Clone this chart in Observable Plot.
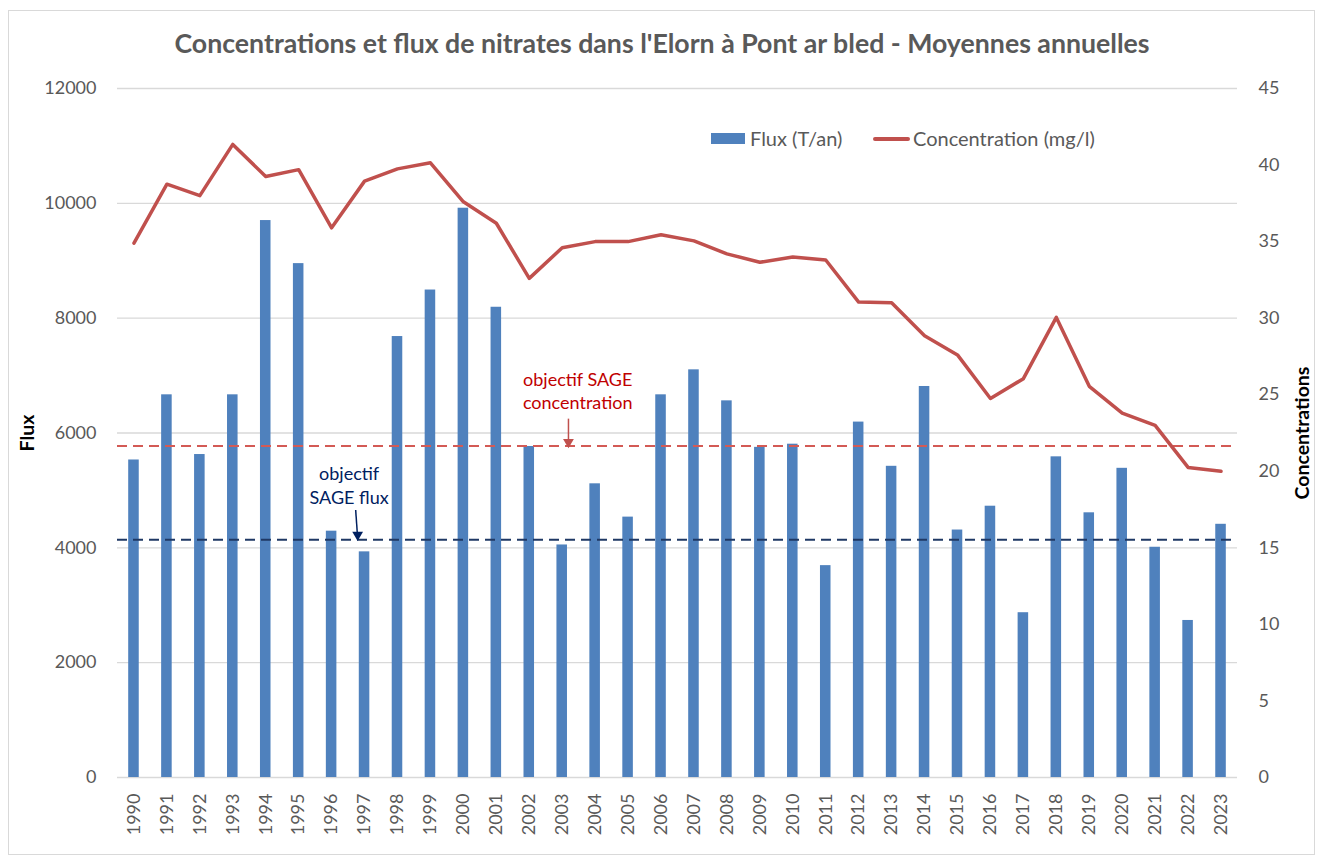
<!DOCTYPE html>
<html>
<head>
<meta charset="utf-8">
<script src="https://cdn.jsdelivr.net/npm/d3@7"></script>
<script src="https://cdn.jsdelivr.net/npm/@observablehq/plot@0.6"></script>
<style>
  body { margin: 0; background: #fff; }
  #wrap { position: relative; width: 1324px; height: 858px; font-family: Lato, "Open Sans", sans-serif; overflow: hidden; }
  #frame { position: absolute; left: 8px; top: 10px; width: 1307px; height: 845px; border: 1px solid #D9D9D9; box-sizing: border-box; pointer-events: none; }
  #title { height: 75px; line-height: 86px; text-align: center; font-size: 26.7px; font-weight: bold; color: #595959; }
  .leg { position: absolute; font-size: 20px; color: #595959; line-height: 22px; }
</style>
</head>
<body>
<div id="wrap">
  <div id="frame"></div>
  <div id="title">Concentrations et flux de nitrates dans l'Elorn à Pont ar bled - Moyennes annuelles</div>
  <div id="chart"></div>
  <div class="leg" style="left:711px;top:133px;width:34px;height:11px;background:#4F81BD"></div>
  <div class="leg" style="left:750px;top:127px;">Flux (T/an)</div>
  <div class="leg" style="left:873px;top:137px;width:37px;height:4px;background:#C0504D;border-radius:2px"></div>
  <div class="leg" style="left:913px;top:127px;">Concentration (mg/l)</div>
</div>
<script>
const years = d3.range(1990, 2024);
const flux = [5530, 6665, 5625, 6665, 9700, 8950, 4290, 3930, 7680, 8490,
              9915, 8190, 5765, 4050, 5115, 4535, 6665, 7100, 6560, 5750,
              5805, 3690, 6190, 5420, 6810, 4310, 4725, 2870, 5585, 4610,
              5385, 4010, 2735, 4410];
const concentration = [34.9, 38.75, 38.0, 41.35, 39.25, 39.7, 35.9, 38.95, 39.75, 40.15,
                       37.6, 36.2, 32.6, 34.6, 35.0, 35.0, 35.45, 35.05, 34.2, 33.65,
                       34.0, 33.8, 31.05, 31.0, 28.85, 27.6, 24.75, 26.05, 30.05, 25.55,
                       23.8, 23.0, 20.25, 20.0];
const fluxTicks = [0, 2000, 4000, 6000, 8000, 10000, 12000];
const concTicks = [0, 5, 10, 15, 20, 25, 30, 35, 40, 45];
const sageFlux = 4140;       // objectif SAGE flux (T/an)
const sageConc = 21.65;      // objectif SAGE concentration (mg/l)

const fluxMax = 12000, concMax = 45;
const k = fluxMax / concMax; // concentration -> flux axis

const rows = years.map((year, i) => ({year, flux: flux[i], conc: concentration[i]}));

const notes = [
  {x: 2003.47, y: 6750, text: "objectif SAGE\nconcentration", color: "#C00000"},
  {x: 1996.53, y: 5100, text: "objectif\nSAGE flux", color: "#002060"}
];
const arrows = [
  {x1: 2003.19, y1: 6250, x2: 2003.19, y2: 5790, color: "#C0504D"},
  {x1: 1996.73, y1: 4660, x2: 1996.79, y2: 4175, color: "#002060"}
];

const chart = Plot.plot({
  width: 1324,
  height: 783,
  marginTop: 13,
  marginBottom: 81,
  marginLeft: 117,
  marginRight: 87,
  style: {fontFamily: "Lato, 'Open Sans', sans-serif", fontSize: "18px", color: "#595959", background: "transparent", overflow: "visible"},
  x: {domain: [1989.5, 2023.5], axis: null},
  y: {domain: [0, fluxMax], axis: null},
  marks: [
    Plot.ruleY(fluxTicks, {stroke: "#D9D9D9", strokeWidth: 1.3}),
    Plot.axisY({ticks: fluxTicks, tickSize: 0, tickPadding: 21, tickFormat: d => String(d), label: null, fill: "#595959"}),
    Plot.axisY({anchor: "right", ticks: concTicks.map(c => c * k), tickSize: 0, tickPadding: 21,
                tickFormat: d => String(Math.round(d / k)), label: null, fill: "#595959"}),
    Plot.axisX({ticks: years, tickSize: 0, tickPadding: 16, tickRotate: -90, tickFormat: d => String(d), label: null, fill: "#595959"}),
    Plot.rectY(rows, {x1: d => d.year - 0.16, x2: d => d.year + 0.16, y: "flux", fill: "#4F81BD"}),
    Plot.ruleY([sageConc * k], {stroke: "#D35A55", strokeWidth: 2, strokeDasharray: "10,6"}),
    Plot.ruleY([sageFlux], {stroke: "#1F3864", strokeWidth: 2, strokeDasharray: "10,6"}),
    Plot.line(rows, {x: "year", y: d => d.conc * k, stroke: "#C0504D", strokeWidth: 3.5, strokeLinejoin: "round"}),
    Plot.link(arrows, {x1: "x1", y1: "y1", x2: "x2", y2: "y2", stroke: "color", strokeWidth: 1.5}),
    Plot.dot(arrows, {x: "x2", y: "y2", symbol: "triangle", rotate: 180, r: 4, fill: "color", stroke: null, dy: -3}),
    Plot.text(notes, {x: "x", y: "y", text: "text", fill: "color", fontSize: 18, lineHeight: 1.3}),
    Plot.text(["Flux"], {frameAnchor: "left", dx: -90, rotate: -90, textAnchor: "middle", fontSize: 19.5, fontWeight: "bold", fill: "#000"}),
    Plot.text(["Concentrations"], {frameAnchor: "right", dx: 65, rotate: -90, textAnchor: "middle", fontSize: 19.5, fontWeight: "bold", fill: "#000"})
  ]
});
document.getElementById("chart").appendChild(chart);
</script>
</body>
</html>
